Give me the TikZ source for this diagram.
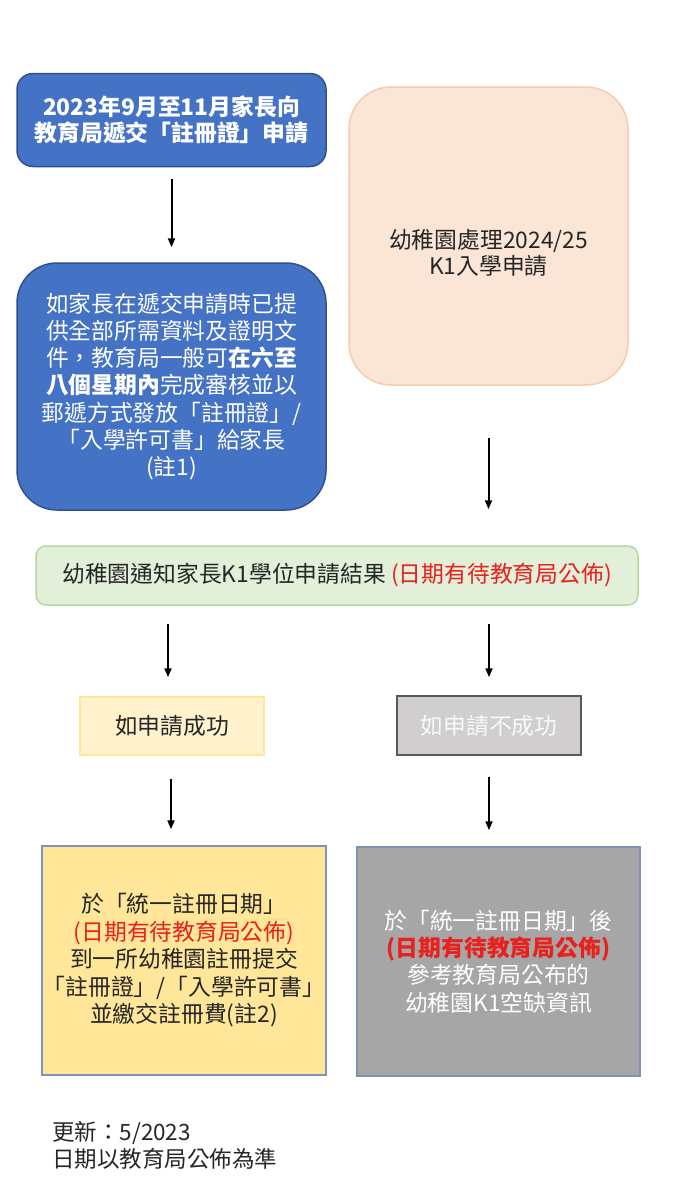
\documentclass[tikz,border=0pt]{standalone}
\usepackage{fontspec}
\setmainfont{Noto Sans CJK TC}
\usetikzlibrary{arrows.meta}
\definecolor{bluefill}{HTML}{4472C4}
\definecolor{blueline}{HTML}{2F528F}
\definecolor{peachfill}{HTML}{FBE5D6}
\definecolor{peachline}{HTML}{F8CBAD}
\definecolor{greenfill}{HTML}{E2F0D9}
\definecolor{greenline}{HTML}{B5D8A0}
\definecolor{ylwfill}{HTML}{FFF2CC}
\definecolor{ylwline}{HTML}{FFE699}
\definecolor{grayfill}{HTML}{D0CECE}
\definecolor{grayline}{HTML}{595959}
\definecolor{ybigfill}{HTML}{FFE699}
\definecolor{bigline}{HTML}{7F93B5}
\definecolor{gbigfill}{HTML}{A6A6A6}
\definecolor{redtxt}{HTML}{E8201E}
\definecolor{darktxt}{HTML}{262626}
\tikzset{
  box/.style={draw, line width=1.5pt, align=center, inner sep=0pt,
    font=\fontsize{22.8}{27.2}\selectfont},
  arr/.style={line width=2pt, -{Triangle[length=9pt,width=7pt]}},
}
\begin{document}
\begin{tikzpicture}[x=1pt,y=-1pt]
\useasboundingbox[fill=white] (0,0) rectangle (675,1200);
% top left
\node[box, fill=bluefill, draw=blueline, rounded corners=16pt,
  minimum width=309pt, minimum height=93pt, text=white,
  font=\fontsize{22.8}{26}\selectfont\bfseries] (b1) at (171.5,120)
  {2023年9月至11月家長向\\教育局遞交「註冊證」申請};
\node[box, fill=bluefill, draw=blueline, rounded corners=40pt,
  minimum width=309pt, minimum height=247pt, text=white] (b2) at (171.5,386.5)
  {如家長在遞交申請時已提\\供全部所需資料及證明文\\件，教育局一般可\textbf{在六至}\\\textbf{八個星期內}完成審核並以\\郵遞方式發放「註冊證」/\\「入學許可書」給家長\\(註1)};
% peach
\node[box, fill=peachfill, draw=peachline, rounded corners=42pt,
  minimum width=279pt, minimum height=298pt] (peach) at (488.5,236) {};
\node[align=center, inner sep=0pt, text=darktxt,
  font=\fontsize{22.8}{26}\selectfont] (peachtxt) at (488.5,253)
  {幼稚園處理2024/25\\K1入學申請};
% green
\node[box, fill=greenfill, draw=greenline, rounded corners=10pt,
  minimum width=602pt, minimum height=59pt, text=darktxt] (green) at (337,575.5)
  {幼稚園通知家長K1學位申請結果 \textcolor{redtxt}{(日期有待教育局公佈)}};
% small boxes
\node[box, fill=ylwfill, draw=ylwline, minimum width=184pt, minimum height=58pt,
  text=darktxt] (ys) at (172,726) {如申請成功};
\node[box, fill=grayfill, draw=grayline, minimum width=184pt, minimum height=59pt,
  text=white!95!gray] (gs) at (489,725.5) {如申請不成功};
% big boxes
\node[box, fill=ybigfill, draw=bigline, minimum width=284pt, minimum height=229pt,
  text=darktxt, font=\fontsize{22.8}{27.5}\selectfont] (yb) at (184,960.5)
  {於「統一註冊日期」\\\textcolor{redtxt}{(日期有待教育局公佈)}\\到一所幼稚園註冊提交\\「註冊證」/「入學許可書」\\並繳交註冊費(註2)};
\node[box, fill=gbigfill, draw=bigline, minimum width=283pt, minimum height=229pt,
  text=white] (gb) at (498.5,961.5)
  {於「統一註冊日期」後\\\textcolor{redtxt}{\bfseries(日期有待教育局公佈)}\\參考教育局公布的\\幼稚園K1空缺資訊};
% footer
\node[anchor=north west, align=left, inner sep=0pt, text=darktxt,
  font=\fontsize{22.5}{27}\selectfont] (foot) at (52,1121)
  {更新：5/2023\\日期以教育局公佈為準};
% arrows
\draw[arr, shorten <=12pt, shorten >=15pt] (b1.south) -- (b2.north);
\draw[arr, shorten <=52pt, shorten >=36pt] (peach.south) -- (peach.south |- green.north);
\draw[arr, shorten <=18pt, shorten >=19pt] ([xshift=-4pt]ys.north |- green.south) -- ([xshift=-4pt]ys.north);
\draw[arr, shorten <=18pt, shorten >=18pt] (gs.north |- green.south) -- (gs.north);
\draw[arr, shorten <=23pt, shorten >=16pt] ([xshift=-1pt]ys.south) -- ([xshift=-1pt]ys.south |- yb.north);
\draw[arr, shorten <=21pt, shorten >=16pt] (gs.south) -- (gs.south |- gb.north);
\end{tikzpicture}
\end{document}
